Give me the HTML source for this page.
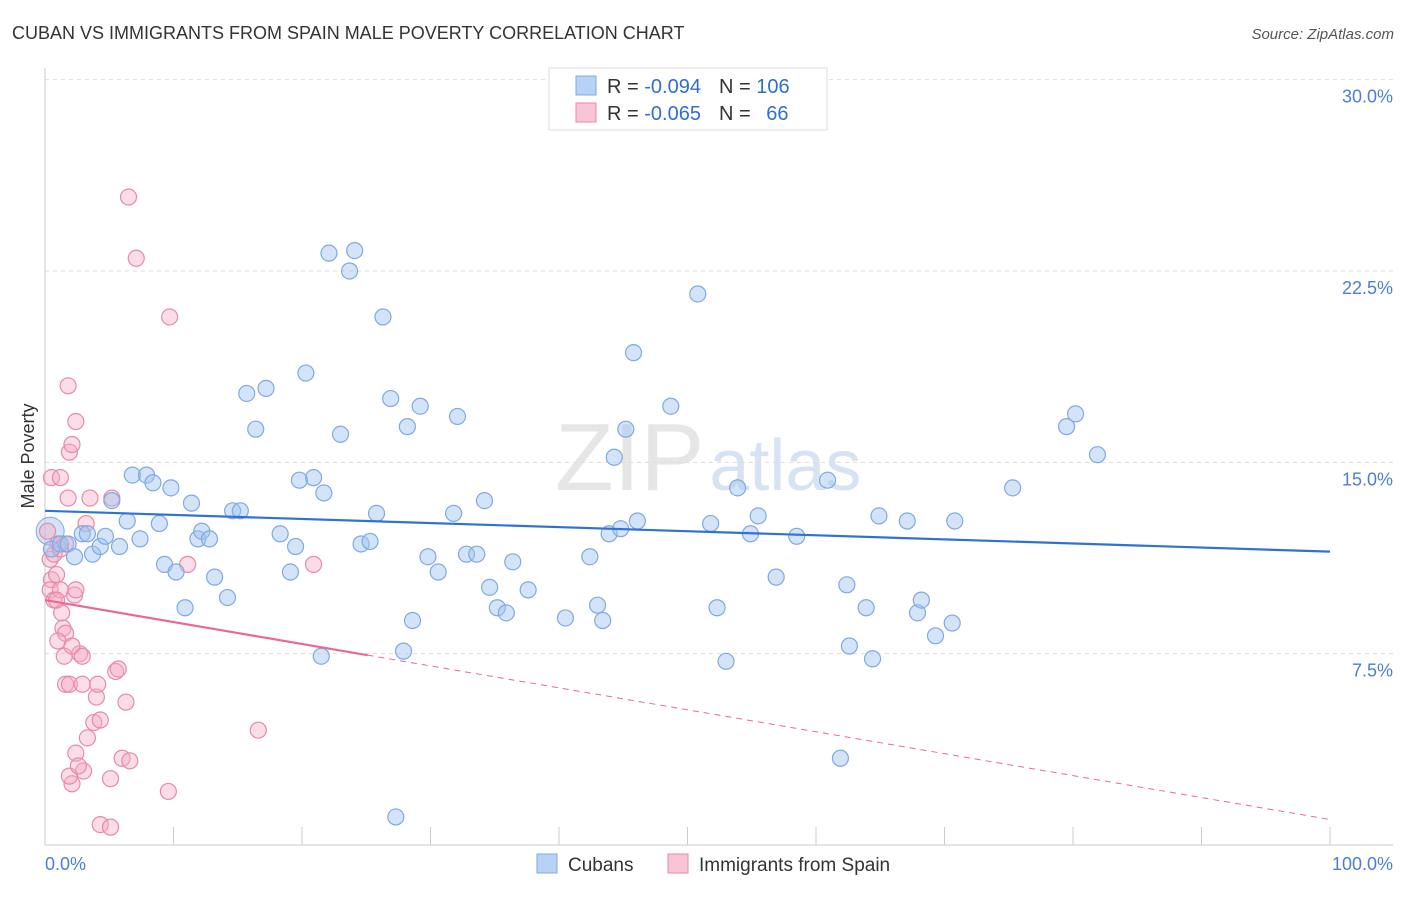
<!DOCTYPE html>
<html><head><meta charset="utf-8"><style>
body{margin:0;background:#fff;font-family:"Liberation Sans",sans-serif}
svg text{font-family:"Liberation Sans",sans-serif}
</style></head><body>
<svg id="chart" width="1406" height="892" xmlns="http://www.w3.org/2000/svg">
<text x="12" y="39" font-size="18" fill="#333">CUBAN VS IMMIGRANTS FROM SPAIN MALE POVERTY CORRELATION CHART</text>
<text x="1394" y="39" font-size="15" fill="#555" text-anchor="end" font-style="italic">Source: ZipAtlas.com</text>
<text x="555" y="490" font-size="96" fill="#e6e6e6" font-family="Liberation Serif">ZIP<tspan fill="#d7e3f3" font-family="Liberation Sans" font-size="72" dx="5">atlas</tspan></text>
<g id="grid"></g>
<g id="axes"></g>
<g id="marks"></g>
<text transform="translate(34,456) rotate(-90)" font-size="18" fill="#333" text-anchor="middle">Male Poverty</text>
<g>
<rect x="549" y="68" width="278" height="62" fill="#fff" stroke="#ddd"/>
<rect x="576" y="76" width="20" height="19" fill="#b8d2f5" stroke="#7fa9e0"/>
<rect x="576" y="103" width="20" height="19" fill="#f9c4d4" stroke="#e889a9"/>
<text x="607" y="93" font-size="20" fill="#333">R = <tspan fill="#2f6fd0">-0.094</tspan><tspan dx="18">N = </tspan><tspan fill="#2f6fd0">106</tspan></text>
<text x="607" y="120" font-size="20" fill="#333">R = <tspan fill="#2f6fd0">-0.065</tspan><tspan dx="18">N = </tspan><tspan fill="#2f6fd0" dx="10">66</tspan></text>
</g>
<g>
<rect x="537" y="854" width="20" height="19" fill="#b8d2f5" stroke="#7fa9e0"/>
<text x="568" y="871" font-size="19" fill="#333">Cubans</text>
<rect x="668" y="854" width="20" height="19" fill="#f9c4d4" stroke="#e889a9"/>
<text x="699" y="871" font-size="19" fill="#333">Immigrants from Spain</text>
</g>
</svg>
<script>
const yTicks=[7.5,15,22.5,30];
const yTickLabels=["7.5%","15.0%","22.5%","30.0%"];
const xTickCount=10;
const xLabels=["0.0%","100.0%"];
const cubanX=[0.5,1.2,1.8,2.3,2.9,3.3,3.7,4.3,4.7,5.2,5.8,6.4,6.8,7.4,7.9,8.4,8.9,9.3,9.8,10.2,10.9,11.4,11.9,12.2,12.8,13.2,14.2,14.6,15.2,15.7,16.4,17.2,18.3,19.1,19.5,19.8,20.3,20.9,21.5,21.7,22.1,23.0,23.7,24.1,24.6,25.3,25.8,26.3,26.9,27.3,27.9,28.2,28.6,29.2,29.8,30.6,31.8,32.1,32.8,33.6,34.2,34.6,35.2,35.9,36.4,37.6,40.5,42.4,43.0,43.4,43.9,44.3,44.8,45.2,45.8,46.1,48.7,50.8,51.8,52.3,53.0,53.9,54.9,55.5,56.9,58.5,60.9,61.9,62.4,62.6,63.9,64.4,64.9,67.1,67.9,68.2,69.3,70.6,70.8,75.3,79.5,80.2,81.9];
const cubanY=[11.6,11.8,11.8,11.3,12.2,12.2,11.4,11.7,12.1,13.5,11.7,12.7,14.5,12.0,14.5,14.2,12.6,11.0,14.0,10.7,9.3,13.4,12.0,12.3,12.0,10.5,9.7,13.1,13.1,17.7,16.3,17.9,12.2,10.7,11.7,14.3,18.5,14.4,7.4,13.8,23.2,16.1,22.5,23.3,11.8,11.9,13.0,20.7,17.5,1.1,7.6,16.4,8.8,17.2,11.3,10.7,13.0,16.8,11.4,11.4,13.5,10.1,9.3,9.1,11.1,10.0,8.9,11.3,9.4,8.8,12.2,15.2,12.4,16.3,19.3,12.7,17.2,21.6,12.6,9.3,7.2,14.0,12.2,12.9,10.5,12.1,14.3,3.4,10.2,7.8,9.3,7.3,12.9,12.7,9.1,9.6,8.2,8.7,12.7,14.0,16.4,16.9,15.3];
const spainX=[0.2,0.4,0.5,0.4,0.7,0.9,1.0,1.2,1.3,1.4,1.5,1.6,1.8,1.8,1.9,2.1,2.3,2.4,2.7,2.9,3.0,2.1,1.9,2.4,2.6,3.3,3.2,3.5,3.8,4.0,1.6,1.9,2.9,4.1,4.3,4.3,5.1,5.1,5.2,5.5,5.7,6.0,6.3,6.6,6.5,7.1,9.6,9.7,11.1,16.6,20.9,0.5,1.2,0.9,0.7,1.2,1.6,2.4,1.0,2.1];
const spainY=[12.3,11.2,10.4,10.0,9.6,10.6,11.8,10.0,9.1,8.5,7.4,8.3,18.0,13.6,15.4,15.7,9.8,16.6,7.5,7.4,2.9,2.4,2.7,3.6,3.1,4.2,12.6,13.6,4.8,5.8,6.3,6.3,6.3,6.3,4.9,0.8,0.7,2.6,13.6,6.8,6.9,3.4,5.6,3.3,25.4,23.0,2.1,20.7,11.0,4.5,11.0,14.4,14.4,9.6,11.4,11.6,11.8,10.0,8.0,7.8];
const cubanTrend=[13.1,11.5];
const spainTrend=[9.6,1.0];
const spainSolidEnd=25.1;
const NS="http://www.w3.org/2000/svg";
const X0=45,X1=1330,Y0=845,PXPER=191.33/7.5;
const sx=v=>X0+(X1-X0)*v/100;
const sy=v=>Y0-v*PXPER;
function mk(tag,attrs,parent){const e=document.createElementNS(NS,tag);for(const k in attrs)e.setAttribute(k,attrs[k]);parent.appendChild(e);return e;}
const grid=document.getElementById('grid'),axes=document.getElementById('axes'),marks=document.getElementById('marks');
yTicks.forEach((t,i)=>{
 const l=mk('line',{x1:X0,x2:1393,y1:sy(t),y2:sy(t),stroke:'#ddd','stroke-dasharray':'4,4'},grid);
 
 
 const tx=mk('text',{x:1393,y:sy(t)+23,'font-size':18,fill:'#4a7fd4','text-anchor':'end'},axes);
 tx.textContent=yTickLabels[i];
 
 
});
const ax=mk('line',{x1:X0,x2:X0,y1:68,y2:Y0,stroke:'#ccc'},axes);


const bx=mk('line',{x1:X0,x2:1393,y1:Y0,y2:Y0,stroke:'#ccc'},axes);


for(let i=1;i<=xTickCount;i++){
 const t=mk('line',{x1:sx(i*10),x2:sx(i*10),y1:Y0,y2:Y0-18,stroke:'#ccc'},axes);
 
 
}
[[0,'start',45],[100,'end',1393]].forEach((d,i)=>{
 const t=mk('text',{x:d[2],y:870,'font-size':18,fill:'#4a7fd4','text-anchor':d[1]},axes);
 t.textContent=xLabels[i];
 
 
});
const big=mk('circle',{cx:sx(0.4),cy:sy(12.3),r:14,fill:'rgba(160,195,240,0.45)',stroke:'#7fa9e0'},marks);


spainX.forEach((x,i)=>{
 const c=mk('circle',{cx:sx(x),cy:sy(spainY[i]),r:8,fill:'rgba(245,170,195,0.4)',stroke:'#e889a9','stroke-width':1.2},marks);
 
 
});
cubanX.forEach((x,i)=>{
 const c=mk('circle',{cx:sx(x),cy:sy(cubanY[i]),r:8,fill:'rgba(160,195,240,0.45)',stroke:'#7fa9e0','stroke-width':1.2},marks);
 
 
});
const bt=mk('line',{x1:sx(0),y1:sy(cubanTrend[0]),x2:sx(100),y2:sy(cubanTrend[1]),stroke:'#2f72d6','stroke-width':2.2},marks);


const pm=spainTrend[0]+(spainTrend[1]-spainTrend[0])*spainSolidEnd/100;
const ps=mk('line',{x1:sx(0),y1:sy(spainTrend[0]),x2:sx(spainSolidEnd),y2:sy(pm),stroke:'#e8689a','stroke-width':2.2},marks);


const pd=mk('line',{x1:sx(spainSolidEnd),y1:sy(pm),x2:sx(100),y2:sy(spainTrend[1]),stroke:'#e8689a','stroke-width':1,'stroke-dasharray':'6,5'},marks);


</script>
</body></html>
